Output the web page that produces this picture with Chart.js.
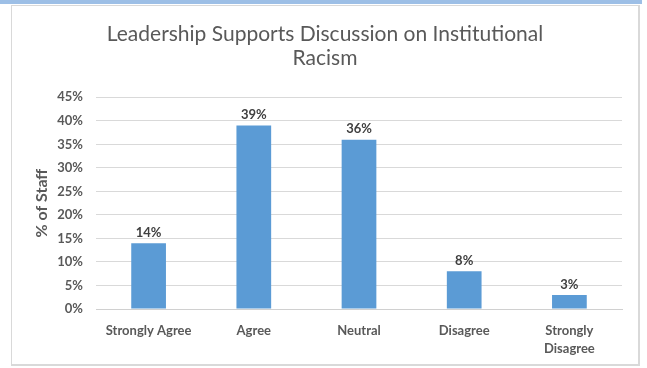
<!DOCTYPE html>
<html>
<head>
<meta charset="utf-8">
<script src="https://cdn.jsdelivr.net/npm/chart.js@4.4.1/dist/chart.umd.min.js"></script>
<style>
  body { margin: 0; background: #fff; }
  #strip { position: absolute; left: 0; top: 0; width: 642px; height: 4px; background: #9dbfe6; }
  #box { position: absolute; left: 11px; top: 5px; width: 626px; height: 358px; border: 1px solid #d9d9d9; border-right-width: 2px; border-bottom-width: 2px; background: #fff; }
  canvas { display: block; }
</style>
</head>
<body>
<div id="strip"></div>
<div id="box"><canvas id="myChart" width="626" height="358"></canvas></div>
<script>
const categories = ['Strongly Agree', 'Agree', 'Neutral', 'Disagree', ['Strongly', 'Disagree']];
const staffPercent = [14, 39, 36, 8, 3];
const yTicks = [0, 5, 10, 15, 20, 25, 30, 35, 40, 45];

const textColor = '#595959';
const fontFace = 'Lato, "Open Sans", sans-serif';

// writes the percentage above each bar
const valueLabels = {
    id: 'valueLabels',
    afterDatasetsDraw(chart) {
        const ctx = chart.ctx;
        const meta = chart.getDatasetMeta(0);
        ctx.save();
        ctx.fillStyle = '#404040';
        ctx.font = 'bold 13px ' + fontFace;
        ctx.textAlign = 'center';
        ctx.textBaseline = 'bottom';
        meta.data.forEach((bar, i) => {
            ctx.fillText(staffPercent[i] + '%', bar.x, bar.y - 4);
        });
        ctx.restore();
    }
};

const ctx = document.getElementById('myChart').getContext('2d');
const myChart = new Chart(ctx, {
    type: 'bar',
    data: {
        labels: categories,
        datasets: [{
            label: '% of Staff',
            data: staffPercent,
            backgroundColor: '#5b9bd5',
            barPercentage: 0.66,
            categoryPercentage: 0.5
        }]
    },
    options: {
        responsive: false,
        animation: false,
        devicePixelRatio: 1,
        layout: { padding: { left: 16, right: 16, top: 0, bottom: 0 } },
        plugins: {
            legend: { display: false },
            tooltip: { enabled: false },
            title: {
                display: true,
                text: ['Leadership Supports Discussion on Institutional', 'Racism'],
                color: textColor,
                font: { family: fontFace, size: 21, weight: 'normal', lineHeight: 1.15 },
                padding: { top: 16, bottom: 27 }
            }
        },
        scales: {
            x: {
                grid: { display: false },
                border: { color: '#d0d0d0' },
                afterFit: axis => { axis.height = 55; },
                ticks: {
                    color: textColor,
                    font: { family: fontFace, size: 13, weight: 'bold', lineHeight: 1.35 },
                    maxRotation: 0,
                    autoSkip: false,
                    padding: 5
                }
            },
            y: {
                min: 0,
                max: 45,
                afterBuildTicks: axis => { axis.ticks = yTicks.map(v => ({ value: v })); },
                afterFit: axis => { axis.width = 68; },
                grid: { color: '#d9d9d9', drawTicks: false },
                border: { display: false },
                ticks: {
                    color: textColor,
                    font: { family: fontFace, size: 13, weight: 'bold' },
                    padding: 13,
                    callback: v => v + '%'
                },
                title: {
                    display: true,
                    text: '% of Staff',
                    color: textColor,
                    font: { family: fontFace, size: 16, weight: 'bold' },
                    padding: { top: 4, bottom: 0 }
                }
            }
        }
    },
    plugins: [valueLabels]
});
</script>
</body>
</html>
